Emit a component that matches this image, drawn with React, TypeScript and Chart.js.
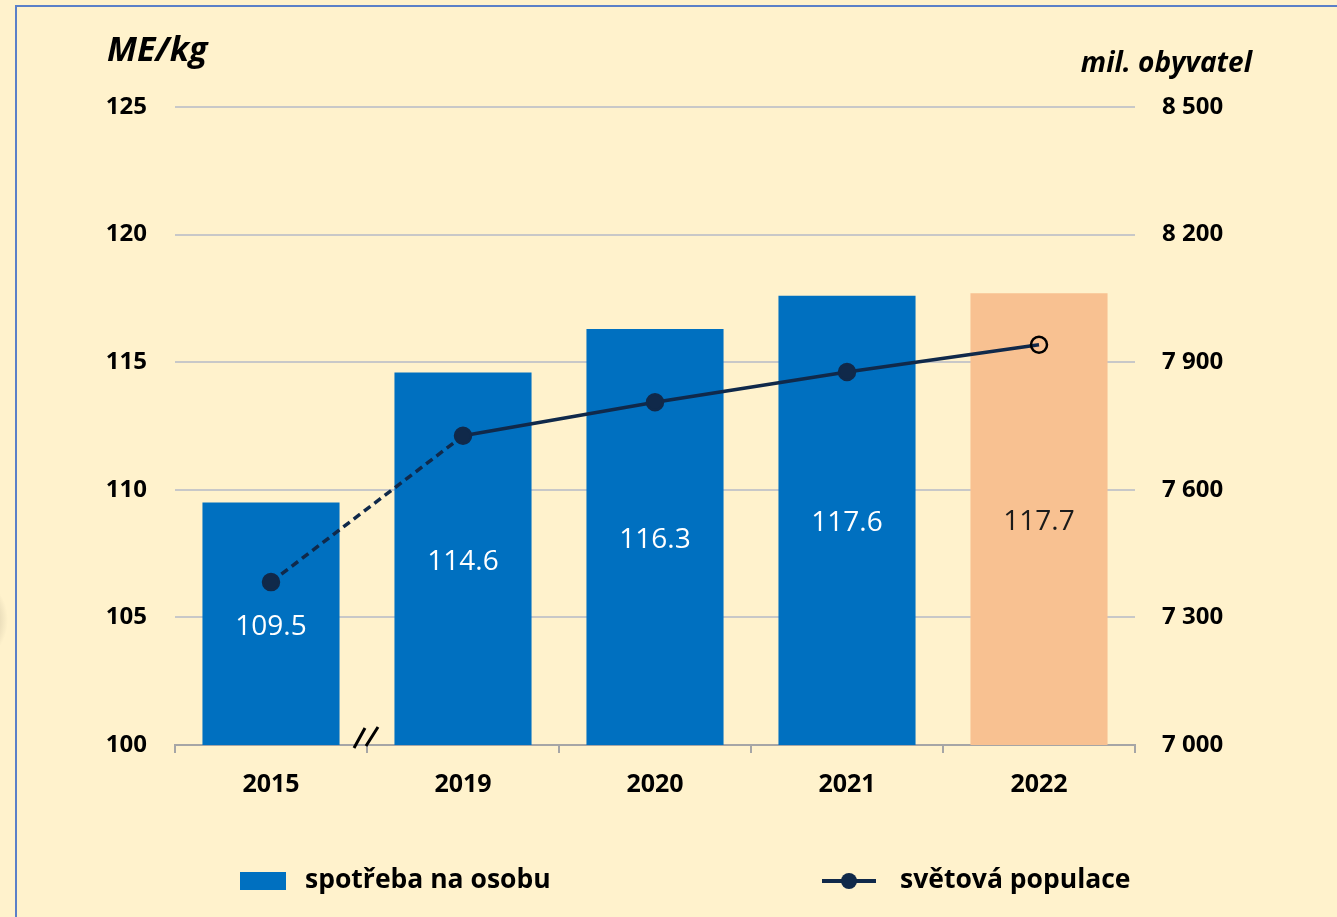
import { useEffect, useRef } from "react";
import { Chart, registerables } from "chart.js";

Chart.register(...registerables);

const categories = ["2015", "2019", "2020", "2021", "2022"];
const consumption = [109.5, 114.6, 116.3, 117.6, 117.7];
const population = [7383, 7727, 7806, 7877, 7941];
const leftTicks = [100, 105, 110, 115, 120, 125];
const rightTicks = [7000, 7300, 7600, 7900, 8200, 8500];
const barColors = ["#0070C0", "#0070C0", "#0070C0", "#0070C0", "#F8C191"];
const valueLabelColors = ["#FFFFFF", "#FFFFFF", "#FFFFFF", "#FFFFFF", "#1A1A1A"];
const seriesNames = ["spotřeba na osobu", "světová populace"];
const leftTitle = "ME/kg";
const rightTitle = "mil. obyvatel";

const FONT = "'Open Sans', 'Noto Sans', sans-serif";
const BG = "#FFF2CC";
const LINE = "#10294A";

const fmtSpace = (v: number) => String(v).replace(/\B(?=(\d{3})+(?!\d))/g, " ");

export default function App() {
  const ref = useRef<HTMLCanvasElement | null>(null);

  useEffect(() => {
    document.body.style.margin = "0";
    document.body.style.background = BG;
    const canvas = ref.current;
    if (!canvas) return;

    const framePlugin = {
      id: "frame",
      beforeDraw(chart: any) {
        const { ctx, width, height } = chart;
        ctx.save();
        ctx.fillStyle = BG;
        ctx.fillRect(0, 0, width, height);
        const g = ctx.createRadialGradient(-40, 620, 20, -40, 620, 48);
        g.addColorStop(0, "rgba(120,110,90,0.5)");
        g.addColorStop(1, "rgba(120,110,90,0)");
        ctx.fillStyle = g;
        ctx.fillRect(0, 540, 14, 170);
        ctx.strokeStyle = "#5B80C8";
        ctx.lineWidth = 2;
        ctx.beginPath();
        ctx.moveTo(16, height);
        ctx.lineTo(16, 6);
        ctx.lineTo(width, 6);
        ctx.stroke();
        ctx.restore();
      },
      afterDraw(chart: any) {
        const { ctx } = chart;
        ctx.save();
        ctx.fillStyle = "#000";
        ctx.textBaseline = "alphabetic";
        ctx.font = `italic bold 34px ${FONT}`;
        ctx.textAlign = "left";
        ctx.fillText(leftTitle, 107, 61);
        ctx.font = `italic bold 28px ${FONT}`;
        ctx.textAlign = "right";
        ctx.fillText(rightTitle, 1252, 72);

        // legend
        const ly = 880;
        ctx.fillStyle = barColors[0];
        ctx.fillRect(240, 872, 46, 18);
        ctx.fillStyle = "#000";
        ctx.font = `bold 26.5px ${FONT}`;
        ctx.textAlign = "left";
        ctx.textBaseline = "middle";
        ctx.fillText(seriesNames[0], 305, ly);
        ctx.strokeStyle = LINE;
        ctx.lineWidth = 4;
        ctx.beginPath();
        ctx.moveTo(822, ly + 1);
        ctx.lineTo(876, ly + 1);
        ctx.stroke();
        ctx.fillStyle = LINE;
        ctx.beginPath();
        ctx.arc(849, ly + 1, 8, 0, Math.PI * 2);
        ctx.fill();
        ctx.fillStyle = "#000";
        ctx.fillText(seriesNames[1], 900, ly);
        ctx.restore();
      },
    };

    const overlayPlugin = {
      id: "overlay",
      afterDatasetsDraw(chart: any) {
        const { ctx } = chart;
        const xs = chart.scales.x;
        const ys = chart.scales.y;
        ctx.save();
        ctx.font = `28px ${FONT}`;
        ctx.textAlign = "center";
        ctx.textBaseline = "middle";
        consumption.forEach((v, i) => {
          const x = xs.getPixelForValue(i);
          const cy = (ys.getPixelForValue(v) + ys.getPixelForValue(ys.min)) / 2;
          ctx.fillStyle = valueLabelColors[i];
          ctx.fillText(v.toFixed(1), x, cy + 3);
        });
        const xb = (xs.getPixelForValue(0) + xs.getPixelForValue(1)) / 2;
        const yb = chart.chartArea.bottom;
        ctx.strokeStyle = "#000";
        ctx.lineWidth = 3;
        ctx.beginPath();
        ctx.moveTo(xb - 13, yb + 3);
        ctx.lineTo(xb - 2, yb - 17);
        ctx.moveTo(xb - 1, yb + 1);
        ctx.lineTo(xb + 11, yb - 18);
        ctx.stroke();
        ctx.restore();
      },
    };

    const chart = new Chart(canvas, {
      type: "bar",
      data: {
        labels: categories,
        datasets: [
          {
            type: "bar",
            label: seriesNames[0],
            data: consumption,
            backgroundColor: barColors,
            yAxisID: "y",
            order: 1,
            categoryPercentage: 1,
            barPercentage: 0.714,
          } as any,
          {
            type: "line",
            label: seriesNames[1],
            data: population,
            yAxisID: "y2",
            order: 0,
            borderColor: LINE,
            borderWidth: 3.5,
            pointRadius: 8,
            pointBorderWidth: 2.5,
            pointBackgroundColor: [LINE, LINE, LINE, LINE, "rgba(0,0,0,0)"],
            pointBorderColor: [LINE, LINE, LINE, LINE, "#000000"],
            tension: 0,
            segment: {
              borderDash: (ctx: any) => (ctx.p0DataIndex === 0 ? [8, 5] : undefined),
            },
          } as any,
        ],
      },
      options: {
        animation: false,
        responsive: false,
        maintainAspectRatio: false,
        layout: { padding: { top: 107, left: 0, right: 0, bottom: 0 } },
        plugins: {
          legend: { display: false },
          tooltip: { enabled: false },
        },
        scales: {
          x: {
            offset: true,
            grid: {
              offset: true,
              drawOnChartArea: false,
              drawTicks: true,
              tickLength: 8,
              color: "#A6A6A6",
              lineWidth: 2,
            },
            border: { display: true, color: "#A6A6A6", width: 2 },
            ticks: {
              color: "#000",
              padding: 17,
              font: { family: FONT, size: 25, weight: "bold" },
            },
            afterFit: (s: any) => {
              s.height = 172;
            },
          },
          y: {
            position: "left",
            min: 100,
            max: 125,
            afterBuildTicks: (s: any) => {
              s.ticks = leftTicks.map((v) => ({ value: v }));
            },
            grid: { color: "#C8C8C8", lineWidth: 2, drawTicks: false },
            border: { display: false },
            ticks: {
              color: "#000",
              padding: 28,
              font: { family: FONT, size: 24, weight: "bold" },
            },
            afterFit: (s: any) => {
              s.width = 175;
            },
          },
          y2: {
            position: "right",
            min: 7000,
            max: 8500,
            afterBuildTicks: (s: any) => {
              s.ticks = rightTicks.map((v) => ({ value: v }));
            },
            grid: { display: false, drawOnChartArea: false, drawTicks: false },
            border: { display: false },
            ticks: {
              color: "#000",
              padding: 27,
              font: { family: FONT, size: 24, weight: "bold" },
              callback: (v: any) => fmtSpace(Number(v)),
            },
            afterFit: (s: any) => {
              s.width = 202;
            },
          },
        },
      },
      plugins: [framePlugin, overlayPlugin],
    } as any);

    return () => chart.destroy();
  }, []);

  return (
    <div style={{ width: 1337, height: 917, background: BG }}>
      <canvas ref={ref} width={1337} height={917} style={{ display: "block", width: 1337, height: 917 }} />
    </div>
  );
}
